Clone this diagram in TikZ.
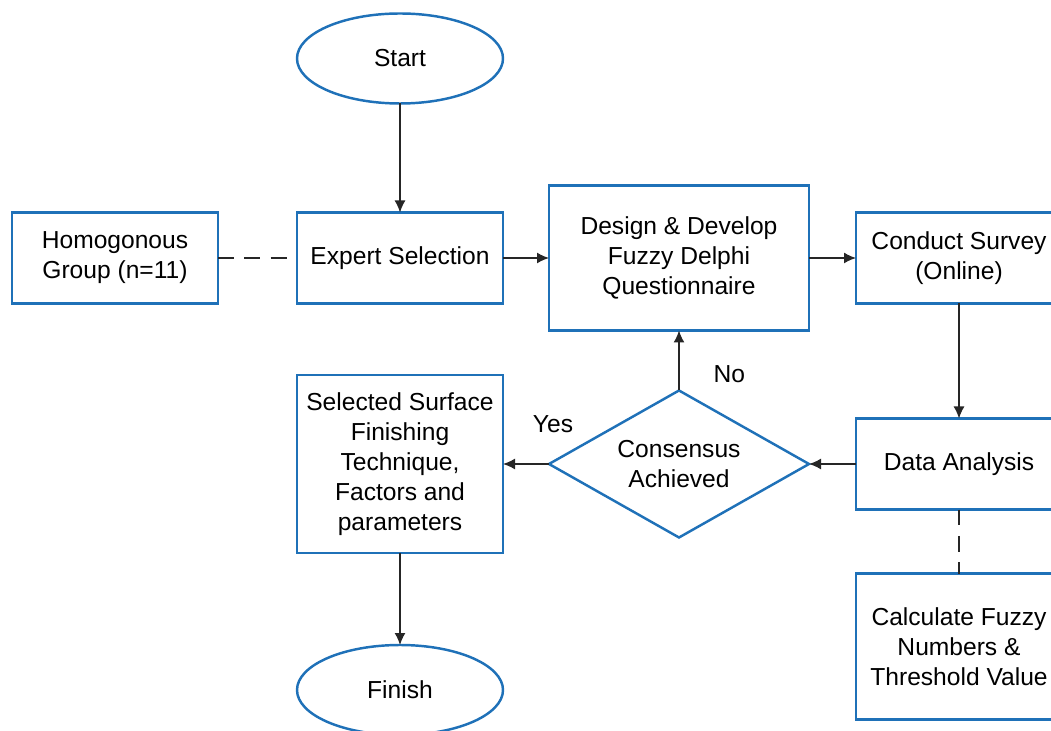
\documentclass[tikz,border=0pt]{standalone}
\usepackage{fontspec}
\setmainfont{Liberation Sans}
\usetikzlibrary{arrows.meta,positioning,shapes.geometric}
\definecolor{chartblue}{RGB}{31,113,184}
\tikzset{
  stepbox/.style={
    rectangle,
    draw=chartblue,
    line width=1.4pt,
    align=center,
    minimum width=4.12cm,
    minimum height=1.82cm,
    inner sep=2pt,
    outer sep=0pt,
    font=\fontsize{14pt}{17pt}\selectfont
  },
  terminal/.style={
    ellipse,
    draw=chartblue,
    line width=1.4pt,
    minimum width=4.12cm,
    minimum height=1.8cm,
    inner sep=0pt,
    outer sep=0pt,
    font=\fontsize{14pt}{17pt}\selectfont
  },
  decision/.style={
    diamond,
    aspect=1.77,
    draw=chartblue,
    line width=1.4pt,
    align=center,
    minimum width=5.2cm,
    minimum height=2.94cm,
    inner sep=1pt,
    outer sep=0pt,
    font=\fontsize{14pt}{17pt}\selectfont
  },
  flowarrow/.style={
    -{Latex[length=2.4mm,width=2.2mm]},
    line width=0.8pt,
    draw=black!85
  },
  linkline/.style={
    line width=0.8pt,
    draw=black!85,
    dash pattern=on 9pt off 6pt
  },
  answer/.style={font=\fontsize{14pt}{17pt}\selectfont}
}

\begin{document}
\begin{tikzpicture}
\clip (0,0) rectangle (21.02,-14.62);
\useasboundingbox (0,0) rectangle (21.02,-14.62);

\node[stepbox] (expert) at (8.0,-5.16) {Expert Selection};
\node[stepbox, left=1.58cm of expert] (group) {Homogonous\\Group (n=11)};
\node[terminal, above=2.18cm of expert] (start) {Start};
\node[stepbox, minimum width=5.2cm, minimum height=2.9cm, right=0.92cm of expert] (design) {Design \& Develop\\Fuzzy Delphi\\Questionnaire};
\node[stepbox, right=0.94cm of design] (survey) {Conduct Survey\\(Online)};
\node[stepbox, below=2.3cm of survey] (analysis) {Data Analysis};
\node[stepbox, minimum height=2.92cm, below=1.28cm of analysis] (fuzzycalc) {Calculate Fuzzy\\Numbers \&\\Threshold Value};
\node[decision, left=0.94cm of analysis] (consensus) {Consensus\\Achieved};
\node[stepbox, minimum height=3.56cm, left=0.92cm of consensus] (selected) {Selected Surface\\Finishing\\Technique,\\Factors and\\parameters};
\node[terminal, below=1.84cm of selected] (finish) {Finish};

\draw[flowarrow] (start) -- (expert);
\draw[flowarrow] (expert) -- (design);
\draw[flowarrow] (design) -- (survey);
\draw[flowarrow] (survey) -- (analysis);
\draw[flowarrow] (analysis) -- (consensus);
\draw[flowarrow] (consensus) -- node[answer, pos=0, above=0.5cm, xshift=0.08cm] {Yes} (selected);
\draw[flowarrow] (consensus) -- node[answer, pos=0.28, right=0.56cm] {No} (design);
\draw[flowarrow] (selected) -- (finish);

\draw[linkline] (group) -- (expert);
\draw[linkline] (analysis) -- (fuzzycalc);
\end{tikzpicture}
\end{document}
